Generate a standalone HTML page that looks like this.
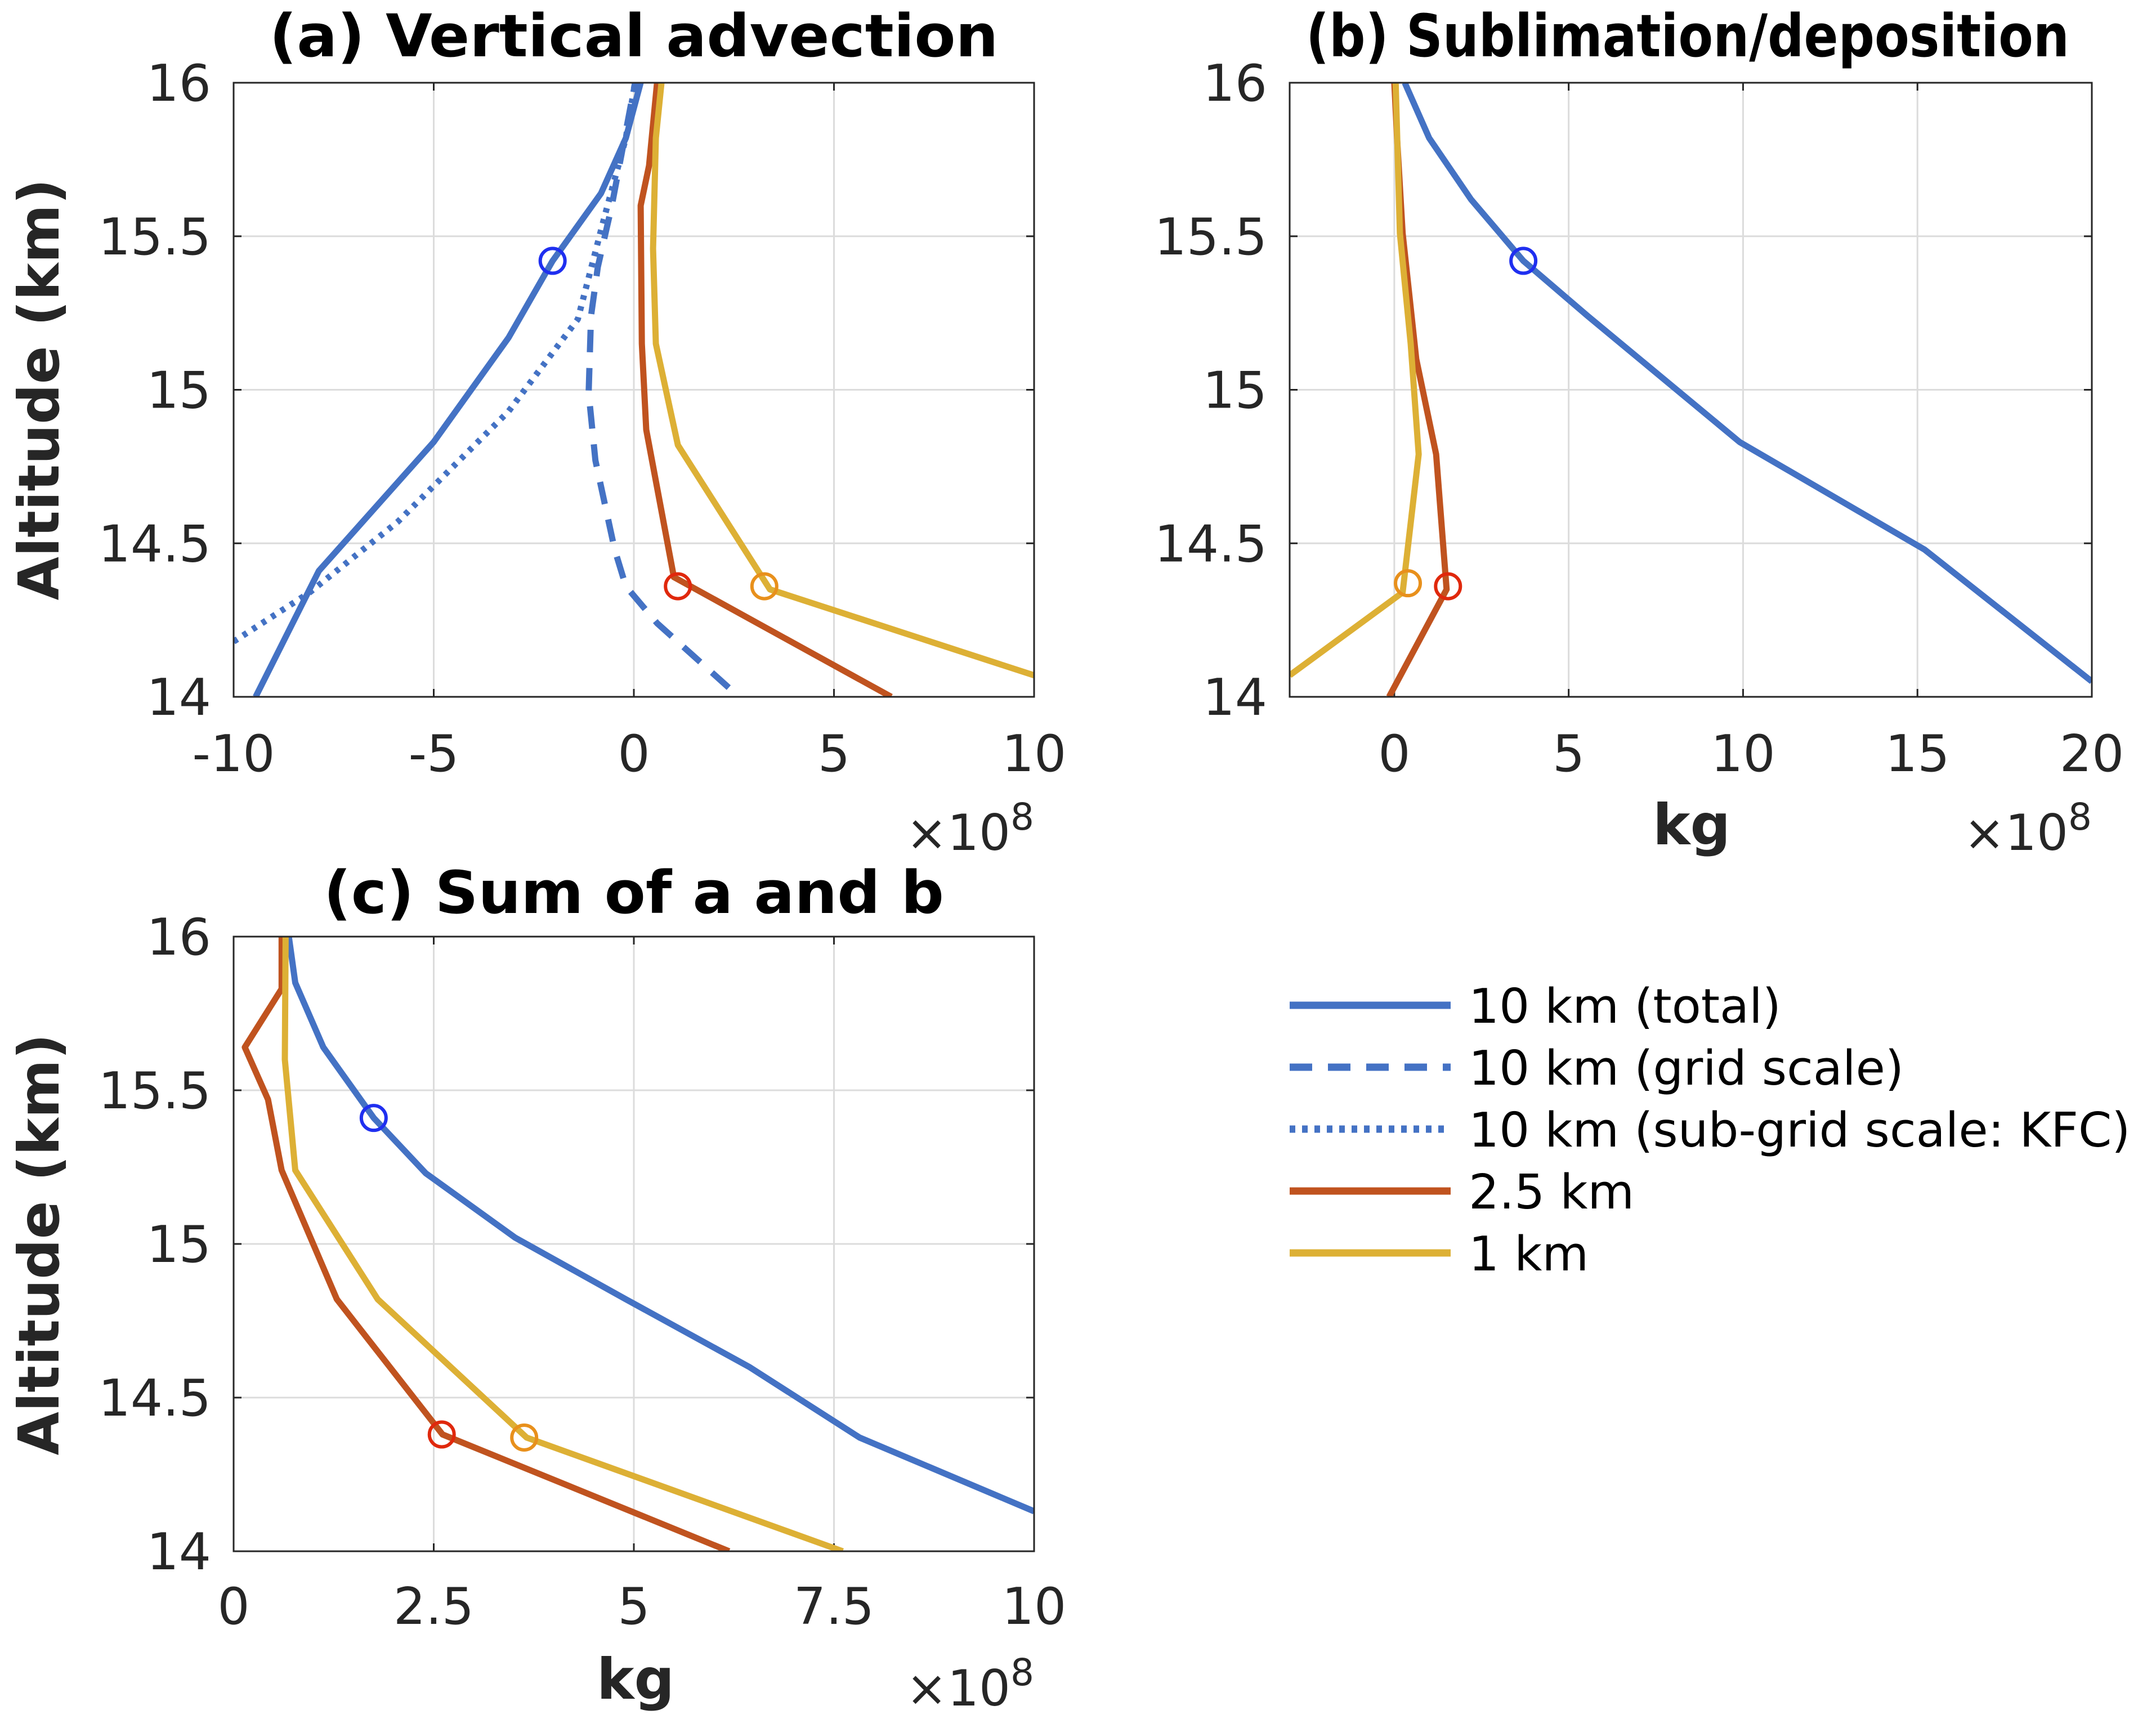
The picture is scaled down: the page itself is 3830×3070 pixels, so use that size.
<!DOCTYPE html>
<html><head><meta charset="utf-8"><style>
html,body{margin:0;padding:0;background:#fff;}
svg text{font-family:"DejaVu Sans","Liberation Sans",sans-serif;}
</style></head><body>
<svg id="fig" width="3830" height="3065" viewBox="0 0 3830 3065" xmlns="http://www.w3.org/2000/svg"></svg>
<script>
// ---- Data (values in 1e8 kg, altitude in km) ----
const aTotalX=[-9.45,-7.87,-5.0,-3.13,-2.03,-0.82,-0.2,0.17];
const aTotalY=[14,14.41,14.83,15.17,15.42,15.64,15.82,16];
const aGridX=[2.37,0.58,-0.2,-0.48,-0.96,-1.13,-1.07,-0.9,-0.55,0.03];
const aGridY=[14.03,14.24,14.36,14.48,14.77,14.99,15.24,15.4,15.6,16];
const aSubX=[-10,-8.1,-5.9,-3.13,-1.4,-0.72,-0.2,0.03];
const aSubY=[14.18,14.34,14.57,14.93,15.23,15.57,15.82,16];
const aRedX=[6.43,1.0,0.31,0.2,0.17,0.38,0.58];
const aRedY=[14,14.39,14.87,15.15,15.6,15.73,16];
const aYelX=[10,3.4,1.1,0.55,0.48,0.55,0.69];
const aYelY=[14.07,14.35,14.82,15.15,15.46,15.82,16];
const aMarkX=[-2.03,1.1,3.26];
const aMarkY=[15.42,14.36,14.36];

const bBlueX=[20,15.2,9.9,5.55,3.7,2.2,1.0,0.3];
const bBlueY=[14.05,14.48,14.83,15.24,15.42,15.62,15.82,16];
const bRedX=[-0.15,1.5,1.2,0.63,0.24,0.08,0];
const bRedY=[14,14.35,14.79,15.1,15.51,15.82,16];
const bYelX=[-3,0.24,0.7,0.47,0.16,0.04];
const bYelY=[14.07,14.34,14.79,15.15,15.51,16];
const bMarkX=[3.7,1.54,0.39];
const bMarkY=[15.42,14.36,14.37];

const cBlueX=[10,7.82,6.44,4.9,3.52,2.4,1.75,1.12,0.77,0.69];
const cBlueY=[14.13,14.37,14.6,14.82,15.02,15.23,15.41,15.64,15.85,16];
const cRedX=[6.19,2.61,1.29,0.6,0.43,0.14,0.6,0.6];
const cRedY=[14,14.38,14.82,15.24,15.47,15.64,15.83,16];
const cYelX=[7.61,3.66,1.8,0.77,0.64,0.65];
const cYelY=[14,14.37,14.82,15.24,15.6,16];
const cMarkX=[1.75,2.6,3.63];
const cMarkY=[15.41,14.38,14.37];

const yTicks=[14,14.5,15,15.5,16];
const yTickLabels=["14","14.5","15","15.5","16"];
const aXTicks=[-10,-5,0,5,10];
const aXTickLabels=["-10","-5","0","5","10"];
const bXTicks=[0,5,10,15,20];
const bXTickLabels=["0","5","10","15","20"];
const cXTicks=[0,2.5,5,7.5,10];
const cXTickLabels=["0","2.5","5","7.5","10"];
const legendLabels=["10 km (total)","10 km (grid scale)","10 km (sub-grid scale: KFC)","2.5 km","1 km"];

const BLUE="#4472c4",RED="#c0531f",YEL="#ddb035";
const MK=["#1f2ff0","#e0280c","#e8901c"];
const NS="http://www.w3.org/2000/svg";
const svg=document.getElementById('fig');
function mk(tag,attrs,parent){const e=document.createElementNS(NS,tag);for(const k in attrs)e.setAttribute(k,attrs[k]);(parent||svg).appendChild(e);return e;}

function panel(id,L,R,T,B,xmin,xmax,xt,xtl,opts){
  const g=mk('g',{});
  
  
  const sx=v=>L+(v-xmin)/(xmax-xmin)*(R-L);
  const sy=v=>B-(v-14)/2*(B-T);
  mk('rect',{x:L,y:T,width:R-L,height:B-T,fill:'#fff'},g);
  xt.forEach((v,i)=>{const x=sx(v);
    const ln=mk('line',{x1:x,y1:T,x2:x,y2:B,stroke:'#dcdcdc','stroke-width':3},g);
    
    mk('line',{x1:x,y1:B,x2:x,y2:B-14,stroke:'#262626','stroke-width':3},g);
    mk('line',{x1:x,y1:T,x2:x,y2:T+14,stroke:'#262626','stroke-width':3},g);
    const t=mk('text',{x:x,y:opts.xlabY,'font-size':90,'text-anchor':'middle',fill:'#262626'},g);
    t.textContent=xtl[i];
    
  });
  yTicks.forEach((v,i)=>{const y=sy(v);
    const ln=mk('line',{x1:L,y1:y,x2:R,y2:y,stroke:'#dcdcdc','stroke-width':3},g);
    
    mk('line',{x1:L,y1:y,x2:L+14,y2:y,stroke:'#262626','stroke-width':3},g);
    mk('line',{x1:R,y1:y,x2:R-14,y2:y,stroke:'#262626','stroke-width':3},g);
    const t=mk('text',{x:L-40,y:y+32,'font-size':90,'text-anchor':'end',fill:'#262626'},g);
    t.textContent=yTickLabels[i];
    
  });
  const cp=mk('clipPath',{id:'clip-'+id},g);
  mk('rect',{x:L,y:T,width:R-L,height:B-T},cp);
  const lg=mk('g',{'clip-path':'url(#clip-'+id+')'},g);
  opts.series.forEach(s=>{
    const d=s.x.map((v,i)=>(i?'L':'M')+sx(v).toFixed(1)+' '+sy(s.y[i]).toFixed(1)).join(' ');
    const p=mk('path',{d:d,fill:'none',stroke:s.c,'stroke-width':11,'stroke-linejoin':'round'},lg);
    if(s.dash)p.setAttribute('stroke-dasharray',s.dash);
    
    
  });
  opts.mx.forEach((v,i)=>{
    const c=mk('circle',{cx:sx(v),cy:sy(opts.my[i]),r:22,fill:'none',stroke:MK[i],'stroke-width':6},g);
    
    
  });
  const box=mk('rect',{x:L,y:T,width:R-L,height:B-T,fill:'none',stroke:'#262626','stroke-width':3},g);
  
  return g;
}

panel('a',415,1837,147,1238,-10,10,aXTicks,aXTickLabels,{xlabY:1370,series:[
 {x:aTotalX,y:aTotalY,c:BLUE,name:'line-10km-total'},
 {x:aSubX,y:aSubY,c:BLUE,dash:'8 12',name:'line-10km-subgrid'},
 {x:aGridX,y:aGridY,c:BLUE,dash:'40 28',name:'line-10km-grid'},
 {x:aRedX,y:aRedY,c:RED,name:'line-2.5km'},
 {x:aYelX,y:aYelY,c:YEL,name:'line-1km'}],mx:aMarkX,my:aMarkY});
panel('b',2291,3716,147,1238,-3,20,bXTicks,bXTickLabels,{xlabY:1370,series:[
 {x:bBlueX,y:bBlueY,c:BLUE,name:'line-10km-total'},
 {x:bRedX,y:bRedY,c:RED,name:'line-2.5km'},
 {x:bYelX,y:bYelY,c:YEL,name:'line-1km'}],mx:bMarkX,my:bMarkY});
panel('c',415,1837,1664,2756,0,10,cXTicks,cXTickLabels,{xlabY:2885,series:[
 {x:cBlueX,y:cBlueY,c:BLUE,name:'line-10km-total'},
 {x:cRedX,y:cRedY,c:RED,name:'line-2.5km'},
 {x:cYelX,y:cYelY,c:YEL,name:'line-1km'}],mx:cMarkX,my:cMarkY});

function txt(s,attrs,name){const t=mk('text',attrs);t.textContent=s;return t;}
txt('(a) Vertical advection',{x:1126,y:100,'font-size':104,'font-weight':'bold','text-anchor':'middle',fill:'#000',textLength:1295,lengthAdjust:'spacingAndGlyphs'},'title-a');
txt('(b) Sublimation/deposition',{x:2998,y:100,'font-size':104,'font-weight':'bold','text-anchor':'middle',fill:'#000',textLength:1356,lengthAdjust:'spacingAndGlyphs'},'title-b');
txt('(c) Sum of a and b',{x:1126,y:1622,'font-size':104,'font-weight':'bold','text-anchor':'middle',fill:'#000',textLength:1102,lengthAdjust:'spacingAndGlyphs'},'title-c');
txt('Altitude (km)',{x:0,y:0,'font-size':100,'font-weight':'bold','text-anchor':'middle',fill:'#262626',transform:'translate(104,692) rotate(-90)'},'y-axis-title-a');
txt('Altitude (km)',{x:0,y:0,'font-size':100,'font-weight':'bold','text-anchor':'middle',fill:'#262626',transform:'translate(104,2211) rotate(-90)'},'y-axis-title-c');
txt('kg',{x:3005,y:1500,'font-size':100,'font-weight':'bold','text-anchor':'middle',fill:'#262626'},'x-axis-title-b');
txt('kg',{x:1129,y:3018,'font-size':100,'font-weight':'bold','text-anchor':'middle',fill:'#262626'},'x-axis-title-c');
[[1837,1510,'exponent-a'],[3716,1510,'exponent-b'],[1837,3030,'exponent-c']].forEach(p=>{
  const t=mk('text',{x:p[0],y:p[1],'font-size':88,'text-anchor':'end',fill:'#262626'});
  t.innerHTML='×10<tspan dy="-36" font-size="66">8</tspan>';
  
});
const lgs=[{c:BLUE},{c:BLUE,dash:'40 28'},{c:BLUE,dash:'10 12'},{c:RED},{c:YEL}];
const lgG=mk('g',{});

legendLabels.forEach((s,i)=>{
  const y=1786+i*110;
  const ln=mk('line',{x1:2291,y1:y,x2:2577,y2:y,stroke:lgs[i].c,'stroke-width':13},lgG);
  if(lgs[i].dash)ln.setAttribute('stroke-dasharray',lgs[i].dash);
  
  const t=mk('text',{x:2609,y:y+31,'font-size':85,fill:'#000'},lgG);
  t.textContent=s;
  
});
</script>
</body></html>
